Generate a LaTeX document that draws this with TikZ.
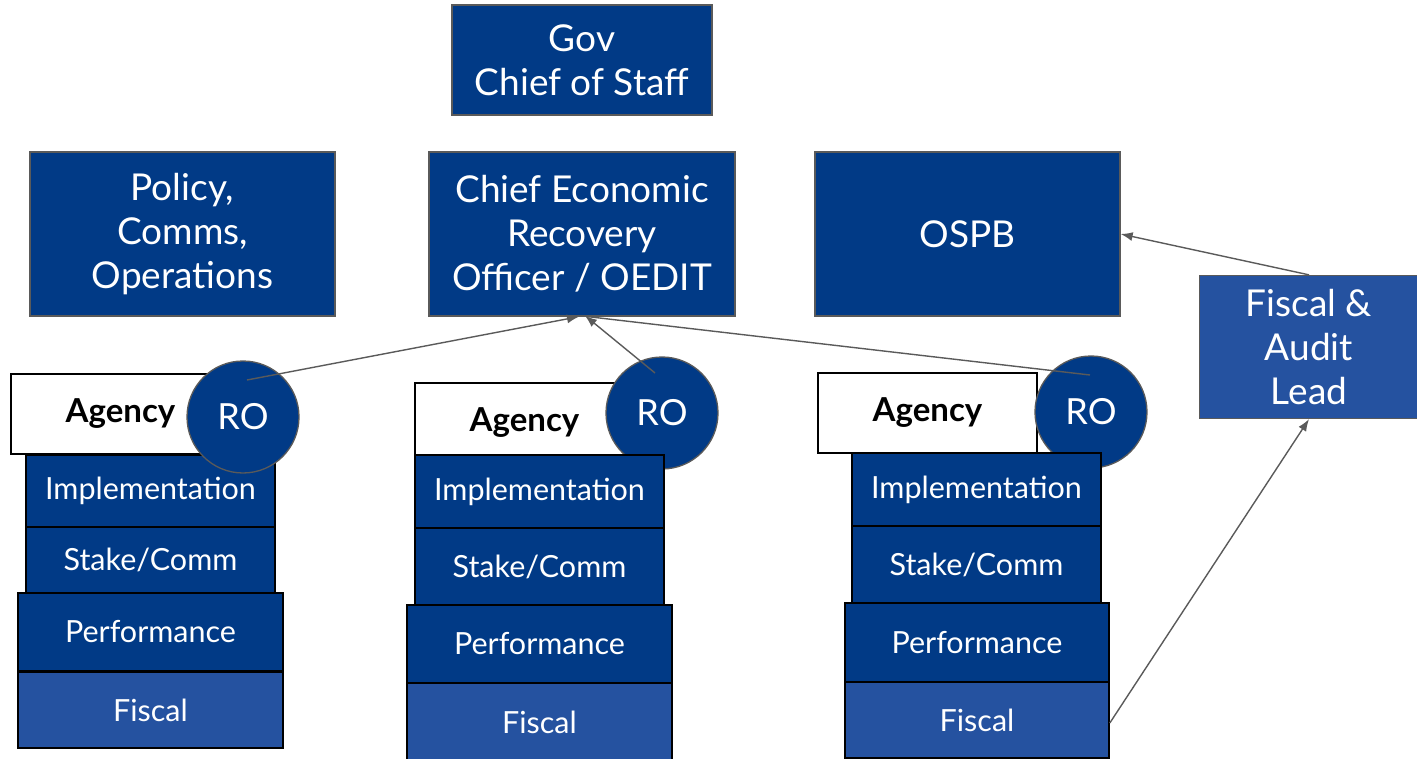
\documentclass[tikz,border=0pt]{standalone}
\usepackage{fontspec}
\setmainfont{Lato}
\usetikzlibrary{arrows.meta}
\definecolor{navy}{RGB}{1,58,134}
\definecolor{lightnavy}{RGB}{37,82,160}
\definecolor{edgegray}{RGB}{90,90,90}
\begin{document}
\begin{tikzpicture}[x=1pt,y=-1pt,
  bigbox/.style={rectangle,draw=edgegray,fill=navy,text=white,line width=1.3pt,align=center,font=\fontsize{37}{44}\selectfont,inner sep=0pt},
  layer/.style={rectangle,draw=black,fill=navy,text=white,line width=1.6pt,font=\fontsize{30.5}{34}\selectfont,inner sep=0pt},
  fiscallayer/.style={layer,fill=lightnavy},
  agencybox/.style={rectangle,draw=black,fill=white,text=black,line width=1.3pt,font=\fontsize{33}{36}\selectfont\bfseries,inner sep=0pt,minimum width=219pt,minimum height=80pt},
  rocircle/.style={circle,draw=edgegray,fill=navy,text=white,line width=1.3pt,minimum size=112pt,inner sep=0pt,font=\fontsize{36}{40}\selectfont},
  link/.style={draw=edgegray,line width=1.4pt},
  arrowlink/.style={link,-{Latex[length=12pt,width=9pt]}}]
\useasboundingbox (0,0) rectangle (1417,759);
% top boxes
\node[bigbox,minimum width=260pt,minimum height=110pt] (gov) at (582,60) {Gov\\Chief of Staff};
\node[bigbox,minimum width=305pt,minimum height=164pt] (policy) at (182.5,234) {Policy,\\Comms,\\Operations};
\node[bigbox,minimum width=306pt,minimum height=164pt] (chief) at (582,234) {Chief Economic\\Recovery\\Officer / OEDIT};
\node[bigbox,minimum width=305pt,minimum height=164pt] (ospb) at (967.5,234) {OSPB};
\node[bigbox,fill=lightnavy,minimum width=219pt,minimum height=143pt] (fal) at (1309,347) {Fiscal \&\\Audit\\Lead};
% left stack
\node[agencybox] (agl) at (120.5,414) {Agency};
\node[layer,minimum width=249pt,minimum height=72pt] (impl) at (150.5,491) {Implementation};
\node[layer,minimum width=249pt,minimum height=66pt] (stakel) at (150.5,560) {Stake/Comm};
\node[layer,minimum width=265pt,minimum height=78pt] (perfl) at (150.5,632) {Performance};
\node[fiscallayer,minimum width=265pt,minimum height=76pt] (fiscl) at (150.5,710) {Fiscal};
\node[rocircle] (rol) at (243,417) {RO};
% middle stack
\node[agencybox] (agm) at (524.5,423) {Agency};
\node[rocircle] (rom) at (662,413) {RO};
\node[layer,minimum width=249pt,minimum height=73pt] (implm) at (539.5,491.5) {Implementation};
\node[layer,minimum width=249pt,minimum height=77pt] (stakem) at (539.5,566.5) {Stake/Comm};
\node[layer,minimum width=265pt,minimum height=78pt] (perfm) at (539.5,644) {Performance};
\node[fiscallayer,minimum width=265pt,minimum height=78pt] (fiscm) at (539.5,722) {Fiscal};
% right stack
\node[agencybox] (agr) at (927.5,413) {Agency};
\node[rocircle] (ror) at (1091,412) {RO};
\node[layer,minimum width=249pt,minimum height=73pt] (implr) at (976.5,489.5) {Implementation};
\node[layer,minimum width=249pt,minimum height=77pt] (staker) at (976.5,564.5) {Stake/Comm};
\node[layer,minimum width=264pt,minimum height=79pt] (perfr) at (977,642.5) {Performance};
\node[fiscallayer,minimum width=264pt,minimum height=76pt] (fiscr) at (977,720) {Fiscal};
% connectors
\coordinate (rolstart) at (247,380);
\coordinate (romstart) at (655,373);
\coordinate (rorstart) at (1090,375);
\draw[arrowlink] (rolstart) -- ([xshift=-3pt]chief.south);
\draw[arrowlink] (romstart) -- ([xshift=3pt,yshift=1pt]chief.south);
\draw[link] (rorstart) -- ([xshift=6pt]chief.south);
\draw[arrowlink] (fal.north) -- (ospb.east);
\draw[arrowlink] ([yshift=-3pt]fiscr.east) -- (fal.south);
\end{tikzpicture}
\end{document}
